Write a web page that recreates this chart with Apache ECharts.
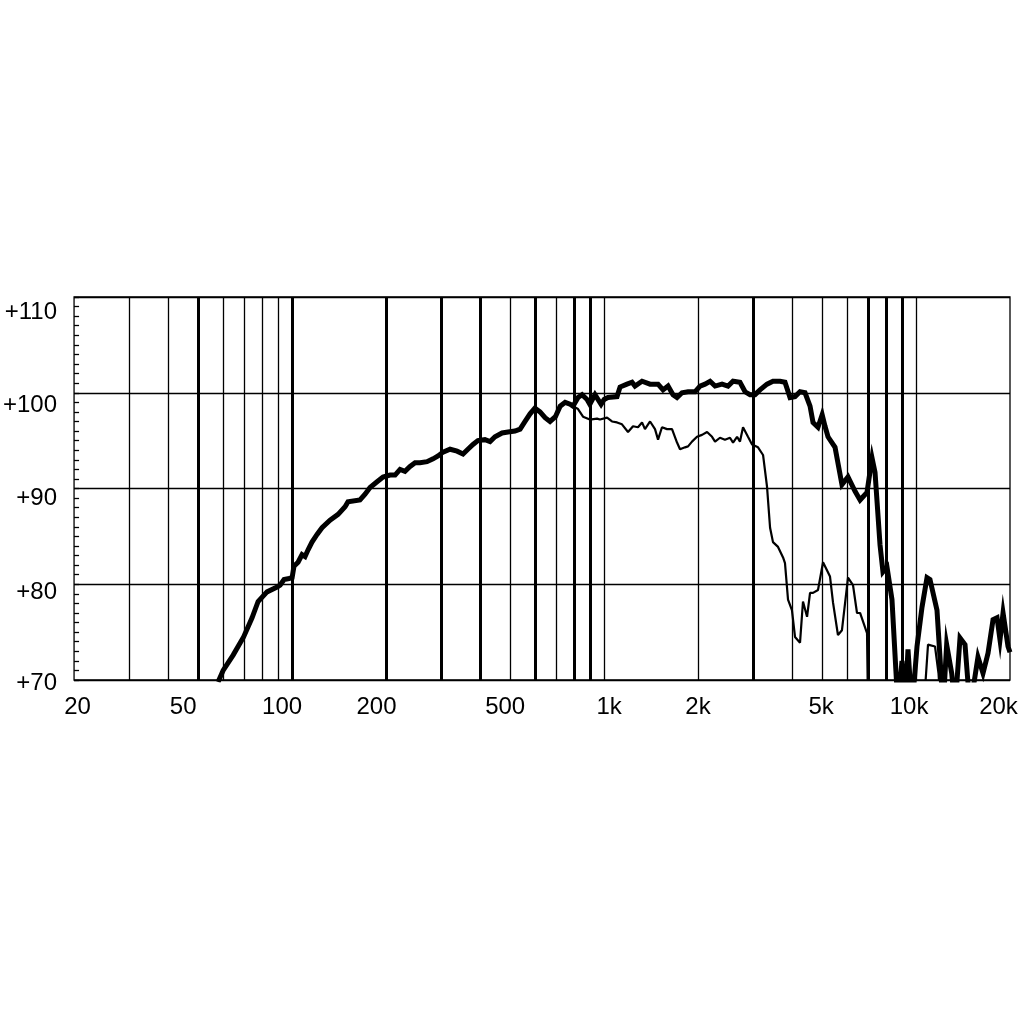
<!DOCTYPE html>
<html>
<head>
<meta charset="utf-8">
<script src="https://cdn.jsdelivr.net/npm/echarts@6/dist/echarts.min.js"></script>
<style>
html,body{margin:0;padding:0;background:#fff;}
#chart{width:1022px;height:1022px;}
</style>
</head>
<body>
<div id="chart"></div>
<script>
// ---- data ----
const xTickValues = [20, 50, 100, 200, 500, 1000, 2000, 5000, 10000, 20000];
const xTickLabels = ['20', '50', '100', '200', '500', '1k', '2k', '5k', '10k', '20k'];
const yTickValues = [70, 80, 90, 100, 110];
const gridFreqs = [30, 40, 50, 60, 70, 80, 90, 100, 200, 300, 400, 500, 600, 700, 800, 900, 1000, 2000, 3000, 4000, 5000, 6000, 7000, 8000, 9000, 10000];
const boldGridFreqs = [50, 100, 200, 300, 400, 600, 800, 900, 3000, 7000, 8000, 9000];

const freqThick = [
  57.9, 60.1, 64.7, 69.9, 74.4, 77.8, 83.1, 89.5, 91.5, 94.2,
  97.8, 100, 101.4, 104.5, 107.6, 110, 112.5, 115.8, 120.2, 124.7,
  132.3, 140.4, 147.8, 151, 165, 171.3, 177.7, 187.2, 195.6, 206,
  213.8, 221.8, 230, 238.8, 247.8, 257, 270.7, 283, 293.6, 304.6,
  320.8, 337.8, 353, 366, 380, 394, 415, 431, 447, 471,
  492, 518, 538, 558, 579, 600, 623, 647, 671, 698,
  723, 750, 778, 795, 825, 850, 882, 900, 935, 978,
  1000, 1029, 1100, 1125, 1184, 1229, 1256, 1323, 1404, 1489,
  1545, 1603, 1663, 1713, 1777, 1858, 1956, 2030, 2106, 2186,
  2268, 2388, 2496, 2590, 2726, 2830, 2936, 3046, 3160, 3328,
  3478, 3664, 3800, 3944, 4092, 4246, 4406, 4572, 4674, 4848,
  5000, 5106, 5220, 5498, 5786, 6050, 6374, 6614, 6962, 7224,
  7386, 7664, 7832, 8068, 8370, 8750, 9012, 9214, 9420, 9702,
  10068, 10446, 10840, 11080, 11668, 11928, 12200, 12532, 13008, 13330,
  13830, 14350, 14888, 15790, 16388, 17006, 17646, 18174, 18576, 19000,
  19708, 20000
];
const dbThick = [
  69.8, 71.0, 72.6, 74.5, 76.5, 78.2, 79.2, 79.7, 79.9, 80.5,
  80.6, 80.7, 81.9, 82.3, 83.1, 82.9, 83.6, 84.4, 85.2, 85.9,
  86.7, 87.3, 88.1, 88.6, 88.8, 89.4, 90.1, 90.7, 91.2, 91.4,
  91.4, 92.0, 91.8, 92.3, 92.7, 92.7, 92.8, 93.1, 93.4, 93.8,
  94.1, 93.9, 93.6, 94.1, 94.6, 95.0, 95.1, 94.9, 95.4, 95.8,
  95.9, 96.0, 96.2, 97.0, 97.8, 98.4, 98.0, 97.4, 97.0, 97.5,
  98.6, 99.0, 98.8, 98.6, 99.5, 99.8, 99.3, 98.8, 99.8, 98.8,
  99.3, 99.5, 99.6, 100.6, 100.9, 101.1, 100.7, 101.2, 100.9, 100.9,
  100.3, 100.7, 99.8, 99.5, 100.0, 100.1, 100.1, 100.7, 100.9, 101.2,
  100.7, 100.9, 100.7, 101.2, 101.1, 100.1, 99.8, 99.8, 100.3, 100.9,
  101.2, 101.2, 101.1, 99.5, 99.6, 100.1, 100.0, 98.6, 96.9, 96.4,
  97.7, 96.5, 95.4, 94.3, 90.4, 91.2, 89.7, 88.8, 89.6, 93.2,
  91.7, 84.1, 81.3, 81.8, 78.4, 67, 72, 67, 73.2, 67,
  73.5, 77.6, 80.7, 80.5, 77.3, 72.4, 67, 73.7, 70.7, 67,
  74.4, 73.7, 67, 72.4, 70.7, 72.8, 76.3, 76.5, 74.2, 77.0,
  73.5, 72.9
];

const freqThin = [
  795, 825, 856, 900, 949, 970, 1022, 1060, 1100, 1141,
  1193, 1238, 1284, 1323, 1352, 1404, 1456, 1489, 1533, 1591,
  1651, 1713, 1751, 1817, 1858, 1913, 1985, 2060, 2138, 2218,
  2268, 2352, 2440, 2532, 2590, 2668, 2726, 2788, 2892, 2980,
  3114, 3232, 3328, 3404, 3478, 3610, 3746, 3800, 3886, 4000,
  4092, 4246, 4340, 4472, 4572, 4674, 4848, 5032, 5298, 5416,
  5618, 5786, 6050, 6278, 6466, 6614, 6962, 7014, 10580, 10920,
  11500, 11800, 12000
];
const dbThin = [
  98.6, 98.3, 97.5, 97.2, 97.3, 97.2, 97.4, 97.0, 96.9, 96.7,
  95.9, 96.5, 96.4, 96.9, 96.2, 97.0, 96.2, 95.1, 96.4, 96.2,
  96.2, 94.8, 94.1, 94.3, 94.4, 94.9, 95.4, 95.6, 95.9, 95.4,
  94.9, 95.3, 95.1, 95.3, 94.8, 95.4, 94.9, 96.4, 95.4, 94.6,
  94.3, 93.5, 90.2, 85.9, 84.4, 83.9, 82.8, 82.2, 78.4, 77.3,
  74.5, 73.9, 78.2, 76.6, 79.1, 79.1, 79.4, 82.3, 80.8, 78.1,
  74.7, 75.2, 80.7, 79.9, 77.0, 77.0, 74.9, 67, 67, 73.7,
  73.5, 70.7, 67
];

// ---- styling helpers ----
const FONT = "'Liberation Sans Narrow', 'Liberation Sans', Arial, sans-serif";
const FS = 24;
// small per-label nudges (label placement in the original print)
const xPad = {'20':[0,0,0,7],'50':[0,30,0,0],'100':[0,20,0,0],'200':[0,19,0,0],'500':[0,10,0,0],
              '1k':[0,0,0,10],'2k':[0,0,0,0],'5k':[0,2,0,0],'10k':[0,14,0,0],'20k':[0,23,0,0]};
const yPad = {70:[6,0,0,0],80:[16,0,0,0],90:[19,0,0,0],100:[26,0,0,0],110:[31,0,0,0]};

const xRich = {};
xTickLabels.forEach((l, i) => {
  xRich['x' + i] = {fontSize: FS, fontFamily: FONT, color: '#000', padding: xPad[l]};
});
const yRich = {};
yTickValues.forEach(v => {
  yRich['y' + v] = {fontSize: FS, fontFamily: FONT, color: '#000', padding: yPad[v], align: 'right'};
});

function xLabel(v) {
  let best = 0, bd = Infinity;
  xTickValues.forEach((t, i) => { const d = Math.abs(Math.log(v) - Math.log(t)); if (d < bd) { bd = d; best = i; } });
  return '{x' + best + '|' + xTickLabels[best] + '}';
}

const chart = echarts.init(document.getElementById('chart'), null, {renderer: 'canvas'});
chart.setOption({
  animation: false,
  backgroundColor: '#fff',
  grid: {left: 74, right: 12, top: 297, bottom: 342, show: true, borderColor: '#000', borderWidth: 1.3, backgroundColor: 'transparent'},
  xAxis: {
    type: 'log', logBase: 10, min: 20, max: 20000,
    axisLine: {show: false}, axisTick: {show: false},
    splitLine: {show: false}, minorTick: {show: false}, minorSplitLine: {show: false},
    axisLabel: {
      customValues: xTickValues,
      formatter: xLabel,
      rich: xRich,
      margin: 15,
      fontSize: FS, fontFamily: FONT, color: '#000',
      showMinLabel: true, showMaxLabel: true
    }
  },
  yAxis: {
    type: 'value', min: 70, max: 110, interval: 10,
    axisLine: {show: false},
    axisTick: {show: true, inside: true, length: 5, lineStyle: {color: '#000', width: 1.3}},
    minorTick: {show: true, splitNumber: 10, length: 5, lineStyle: {color: '#000', width: 1.3}},
    splitLine: {show: true, lineStyle: {color: '#000', width: 1.3}},
    axisLabel: {
      formatter: v => '{y' + v + '|+' + v + '}',
      rich: yRich,
      margin: 17,
      fontSize: FS, fontFamily: FONT, color: '#000'
    }
  },
  series: [
    {
      type: 'line', data: [], z: 1, silent: true,
      markLine: {
        silent: true, symbol: ['none', 'none'], label: {show: false},
        animation: false,
        data: gridFreqs.map(f => ({
          xAxis: f,
          lineStyle: {color: '#000', type: 'solid', width: boldGridFreqs.includes(f) ? 3 : 1.3}
        }))
      }
    },
    {
      name: 'on-axis', type: 'line', z: 3, symbol: 'none', clip: true,
      data: freqThick.map((f, i) => [f, dbThick[i]]),
      lineStyle: {color: '#000', width: 5, join: 'miter'}
    },
    {
      name: 'off-axis', type: 'line', z: 3, symbol: 'none', clip: true,
      data: freqThin.map((f, i) => [f, dbThin[i]]),
      lineStyle: {color: '#000', width: 2.2}
    }
  ]
});
</script>
</body>
</html>
